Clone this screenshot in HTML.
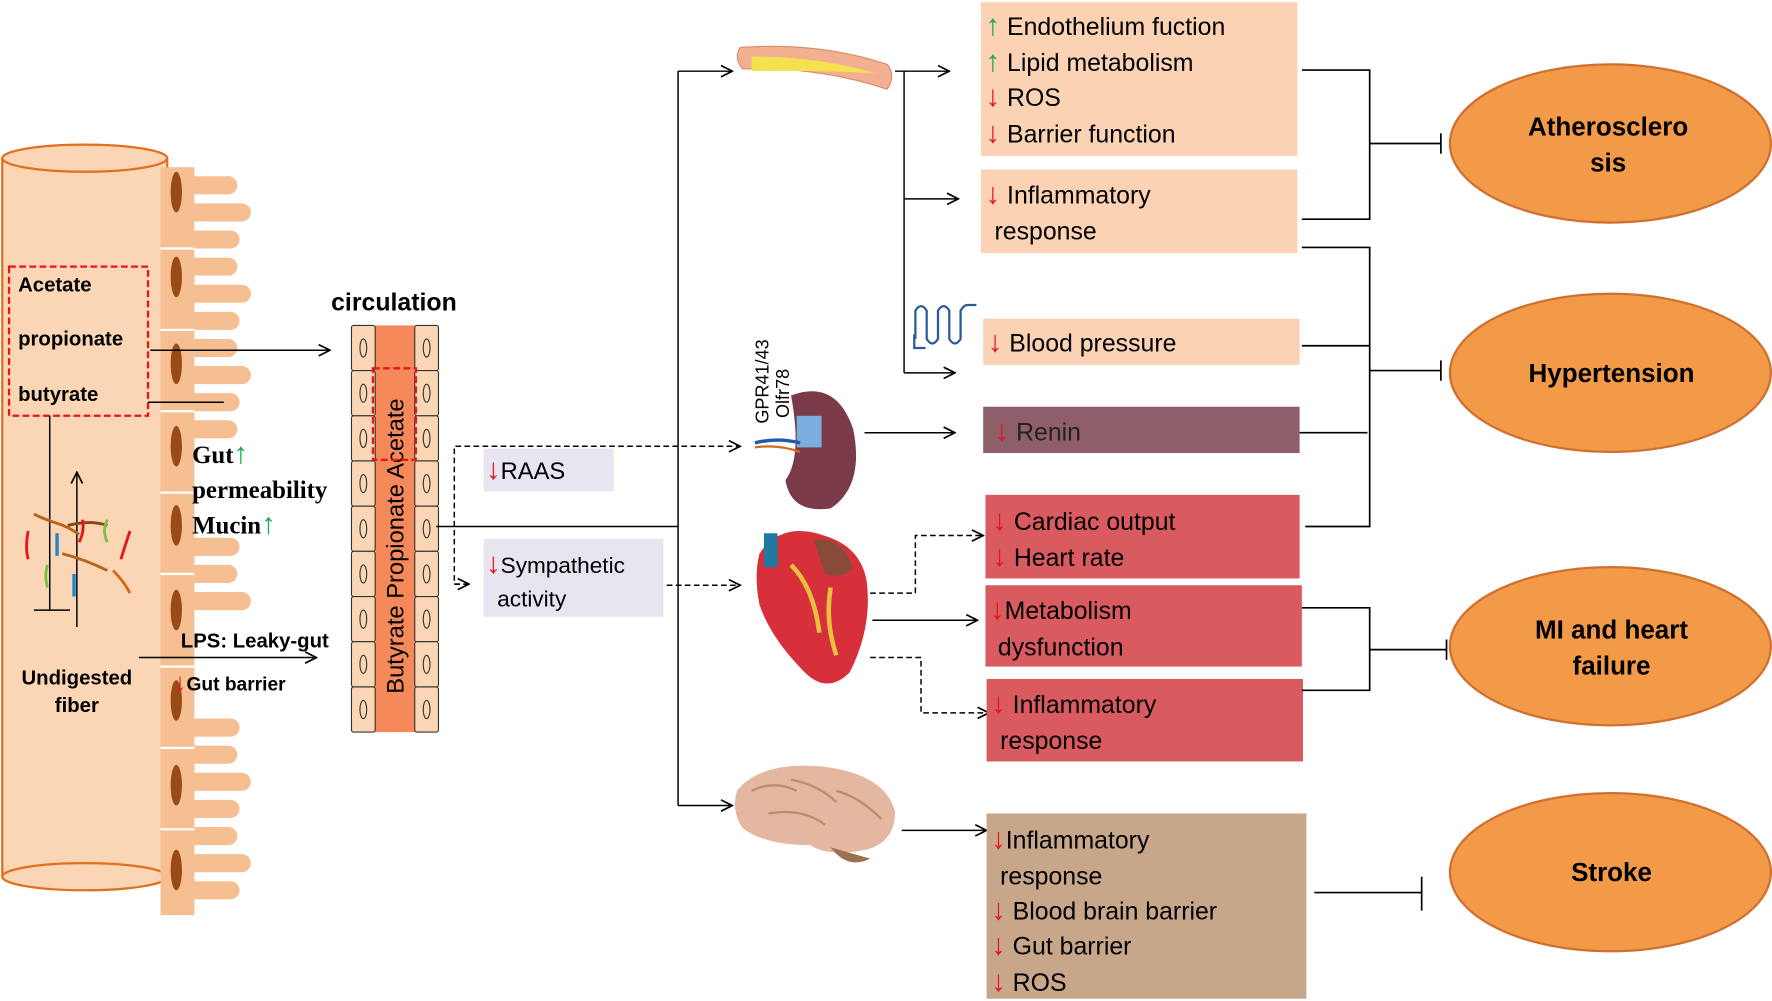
<!DOCTYPE html>
<html><head><meta charset="utf-8"><style>
html,body{margin:0;padding:0;background:#fff}
svg{display:block}
text{font-family:"Liberation Sans",sans-serif}
.b{font-weight:bold}
.s{font-family:"Liberation Serif",serif;font-weight:bold}
.up{fill:#1aa84a;font-size:26px;font-weight:bold}.dn{fill:#e8141c;font-size:26px;font-weight:bold}
</style></head><body>
<svg width="1772" height="1001" viewBox="0 0 1568 886" preserveAspectRatio="none" xmlns="http://www.w3.org/2000/svg">
<defs>
<marker id="a" markerWidth="12" markerHeight="12" refX="11" refY="6" orient="auto" markerUnits="userSpaceOnUse"><polyline points="1,1 11,6 1,11" fill="none" stroke="#000" stroke-width="1.5"/></marker>
</defs>
<!-- tube -->
<rect x="2" y="140" width="146" height="636" fill="#fbd6b4"/>
<line x1="2" y1="140" x2="2" y2="776" stroke="#e07020" stroke-width="2"/>
<line x1="148" y1="140" x2="148" y2="776" stroke="#e07020" stroke-width="2"/>
<ellipse cx="75" cy="776" rx="73" ry="12" fill="#fbd6b4" stroke="#e07020" stroke-width="2"/>
<ellipse cx="75" cy="140" rx="73" ry="12" fill="#fbd6b4" stroke="#e07020" stroke-width="2"/>
<!-- villi -->
<g fill="#f6bf92">
<rect x="142" y="148" width="30" height="662"/>
<rect x="160" y="156" width="50" height="16" rx="8"/><rect x="160" y="180" width="62" height="16" rx="8"/><rect x="160" y="204" width="52" height="16" rx="8"/>
<rect x="160" y="228" width="50" height="16" rx="8"/><rect x="160" y="252" width="62" height="16" rx="8"/><rect x="160" y="276" width="52" height="16" rx="8"/>
<rect x="160" y="300" width="50" height="16" rx="8"/><rect x="160" y="324" width="62" height="16" rx="8"/><rect x="160" y="348" width="52" height="16" rx="8"/>
<rect x="160" y="372" width="50" height="16" rx="8"/><rect x="160" y="476" width="52" height="16" rx="8"/>
<rect x="160" y="500" width="50" height="16" rx="8"/><rect x="160" y="524" width="62" height="16" rx="8"/><rect x="160" y="636" width="52" height="16" rx="8"/>
<rect x="160" y="660" width="50" height="16" rx="8"/><rect x="160" y="684" width="62" height="16" rx="8"/><rect x="160" y="708" width="52" height="16" rx="8"/>
<rect x="160" y="732" width="50" height="16" rx="8"/><rect x="160" y="756" width="62" height="16" rx="8"/><rect x="160" y="780" width="52" height="16" rx="8"/>
</g>
<g stroke="#fff" stroke-width="2"><line x1="142" y1="220" x2="172" y2="220"/><line x1="142" y1="292" x2="172" y2="292"/><line x1="142" y1="364" x2="172" y2="364"/><line x1="142" y1="436" x2="172" y2="436"/><line x1="142" y1="508" x2="172" y2="508"/><line x1="142" y1="590" x2="172" y2="590"/><line x1="142" y1="662" x2="172" y2="662"/><line x1="142" y1="734" x2="172" y2="734"/></g>
<g fill="#9a4a14">
<ellipse cx="156" cy="170" rx="5" ry="18"/><ellipse cx="156" cy="245" rx="5" ry="18"/><ellipse cx="156" cy="322" rx="5" ry="18"/><ellipse cx="156" cy="395" rx="5" ry="18"/><ellipse cx="156" cy="465" rx="5" ry="18"/><ellipse cx="156" cy="540" rx="5" ry="18"/><ellipse cx="156" cy="620" rx="5" ry="18"/><ellipse cx="156" cy="695" rx="5" ry="18"/><ellipse cx="156" cy="770" rx="5" ry="18"/>
</g>
<rect x="8" y="236" width="123" height="132" fill="none" stroke="#e8141c" stroke-width="2" stroke-dasharray="6,3"/>
<text x="16" y="258" class="b" font-size="18">Acetate</text>
<text x="16" y="306" class="b" font-size="18">propionate</text>
<text x="16" y="355" class="b" font-size="18">butyrate</text>
<line x1="133" y1="310" x2="292" y2="310" stroke="#000" stroke-width="1.3" marker-end="url(#a)"/>
<line x1="131" y1="356" x2="198" y2="356" stroke="#000" stroke-width="1.3"/>
<line x1="44" y1="368" x2="44" y2="540" stroke="#000" stroke-width="1.3"/>
<line x1="30" y1="540" x2="62" y2="540" stroke="#000" stroke-width="1.3"/>
<line x1="68" y1="555" x2="68" y2="418" stroke="#000" stroke-width="1.3" marker-end="url(#a)"/>
<g fill="none" stroke-width="2.5">
<path d="M30 455 q10 5 20 8 t20 10" stroke="#b5651d"/><path d="M25 470 q-3 15 0 25" stroke="#e8141c"/><path d="M60 465 q20 -5 35 0" stroke="#8b4513"/><path d="M70 480 q5 -10 3 -20" stroke="#e8141c"/><path d="M95 460 q-5 10 0 20" stroke="#7ac143"/><path d="M115 470 q-5 15 -8 25" stroke="#e8141c"/><path d="M55 490 q20 5 40 15" stroke="#b5651d"/><path d="M100 505 q10 10 15 20" stroke="#d2691e"/><path d="M42 500 q-3 10 0 20" stroke="#7ac143"/></g>
<rect x="49" y="472" width="3" height="20" fill="#1e88c8"/><rect x="64" y="508" width="3" height="20" fill="#1e88c8"/>
<text x="170" y="410" class="s" font-size="22">Gut<tspan class="up">↑</tspan></text>
<text x="170" y="441" class="s" font-size="22">permeability</text>
<text x="170" y="472" class="s" font-size="22">Mucin<tspan class="up">↑</tspan></text>
<text x="68" y="606" class="b" font-size="18" text-anchor="middle">Undigested</text>
<text x="68" y="630" class="b" font-size="18" text-anchor="middle">fiber</text>
<line x1="123" y1="582" x2="280" y2="582" stroke="#000" stroke-width="1.3" marker-end="url(#a)"/>
<text x="160" y="573" class="b" font-size="18">LPS: Leaky-gut</text>
<text x="154" y="611" class="b" font-size="17"><tspan class="dn" style="font-size:22px">↓</tspan>Gut barrier</text>
<!-- circulation -->
<text x="293" y="275" class="b" font-size="22">circulation</text>
<rect x="332" y="288" width="35" height="360" fill="#f5895a"/>
<g fill="#fbd6b4" stroke="#333" stroke-width="1">
<rect x="311" y="288" width="21" height="40" rx="2"/><rect x="311" y="328" width="21" height="40" rx="2"/><rect x="311" y="368" width="21" height="40" rx="2"/><rect x="311" y="408" width="21" height="40" rx="2"/><rect x="311" y="448" width="21" height="40" rx="2"/><rect x="311" y="488" width="21" height="40" rx="2"/><rect x="311" y="528" width="21" height="40" rx="2"/><rect x="311" y="568" width="21" height="40" rx="2"/><rect x="311" y="608" width="21" height="40" rx="2"/>
<rect x="367" y="288" width="21" height="40" rx="2"/><rect x="367" y="328" width="21" height="40" rx="2"/><rect x="367" y="368" width="21" height="40" rx="2"/><rect x="367" y="408" width="21" height="40" rx="2"/><rect x="367" y="448" width="21" height="40" rx="2"/><rect x="367" y="488" width="21" height="40" rx="2"/><rect x="367" y="528" width="21" height="40" rx="2"/><rect x="367" y="568" width="21" height="40" rx="2"/><rect x="367" y="608" width="21" height="40" rx="2"/>
</g>
<g fill="none" stroke="#333" stroke-width="1">
<ellipse cx="321.5" cy="308" rx="3" ry="8"/><ellipse cx="321.5" cy="348" rx="3" ry="8"/><ellipse cx="321.5" cy="388" rx="3" ry="8"/><ellipse cx="321.5" cy="428" rx="3" ry="8"/><ellipse cx="321.5" cy="468" rx="3" ry="8"/><ellipse cx="321.5" cy="508" rx="3" ry="8"/><ellipse cx="321.5" cy="548" rx="3" ry="8"/><ellipse cx="321.5" cy="588" rx="3" ry="8"/><ellipse cx="321.5" cy="628" rx="3" ry="8"/>
<ellipse cx="377.5" cy="308" rx="3" ry="8"/><ellipse cx="377.5" cy="348" rx="3" ry="8"/><ellipse cx="377.5" cy="388" rx="3" ry="8"/><ellipse cx="377.5" cy="428" rx="3" ry="8"/><ellipse cx="377.5" cy="468" rx="3" ry="8"/><ellipse cx="377.5" cy="508" rx="3" ry="8"/><ellipse cx="377.5" cy="548" rx="3" ry="8"/><ellipse cx="377.5" cy="588" rx="3" ry="8"/><ellipse cx="377.5" cy="628" rx="3" ry="8"/>
</g>
<text transform="translate(357,614) rotate(-90)" font-size="21">Butyrate  Propionate  Acetate</text>
<rect x="330" y="326" width="38" height="81" fill="none" stroke="#e8141c" stroke-width="2" stroke-dasharray="6,3"/>
<!-- main connectors -->
<line x1="386" y1="466" x2="600" y2="466" stroke="#000" stroke-width="1.3"/>
<line x1="600" y1="63" x2="600" y2="713" stroke="#000" stroke-width="1.3"/>
<line x1="600" y1="63" x2="648" y2="63" stroke="#000" stroke-width="1.3" marker-end="url(#a)"/>
<line x1="600" y1="713" x2="648" y2="713" stroke="#000" stroke-width="1.3" marker-end="url(#a)"/>
<g stroke="#000" stroke-width="1.3" stroke-dasharray="5,3" fill="none">
<polyline points="415,517 402,517 402,395 655,395" marker-end="url(#a)"/>
<line x1="402" y1="517" x2="415" y2="517" marker-end="url(#a)"/>
<line x1="590" y1="518" x2="655" y2="518" marker-end="url(#a)"/>
<polyline points="770,525 810,525 810,474 870,474" marker-end="url(#a)"/>
<polyline points="770,582 815,582 815,631 875,631" marker-end="url(#a)"/>
</g>
<rect x="428" y="397" width="115" height="38" fill="#e8e4f0"/>
<text x="430" y="424" font-size="21"><tspan class="dn">↓</tspan>RAAS</text>
<rect x="428" y="477" width="159" height="69" fill="#e8e4f0"/>
<text x="430" y="507" font-size="20"><tspan class="dn">↓</tspan>Sympathetic</text>
<text x="440" y="537" font-size="20">activity</text>
<!-- organs -->
<path d="M655 42 q70 -5 130 15 q8 10 0 22 q-60 -20 -128 -18 q-8 -10 -2 -19z" fill="#f2b090" stroke="#d98a6a"/>
<path d="M665 50 q60 0 110 15 q-50 -3 -110 -2z" fill="#f5e050"/>
<path d="M700 350 q40 -15 55 30 q10 50 -20 70 q-35 5 -40 -25 q15 -20 5 -75z" fill="#7a3a48"/>
<rect x="705" y="368" width="22" height="28" fill="#7aaedc"/>
<path d="M668 392 q20 -5 40 0" stroke="#1e5aa8" stroke-width="3" fill="none"/>
<path d="M668 396 q20 -3 40 4" stroke="#d2691e" stroke-width="2" fill="none"/>
<text transform="translate(680,375) rotate(-90)" font-size="16">GPR41/43</text>
<text transform="translate(698,370) rotate(-90)" font-size="16">Olfr78</text>
<path d="M672 490 q20 -30 60 -15 q30 10 35 40 q5 40 -15 80 q-20 20 -40 0 q-30 -30 -40 -60 q-5 -25 0 -45z" fill="#d8303a"/>
<path d="M720 478 q25 -5 35 25 q-10 10 -25 5z" fill="#8a4a3a"/>
<rect x="676" y="472" width="12" height="30" fill="#1e7aa0"/>
<path d="M700 500 q20 20 25 60 M735 520 q-5 30 5 60" stroke="#e8c040" stroke-width="4" fill="none"/>
<path d="M652 700 q20 -25 70 -22 q60 5 70 40 q0 30 -30 35 q-30 5 -45 -5 q-40 0 -60 -15 q-10 -15 -5 -33z" fill="#e4b8a0"/>
<path d="M665 700 q20 -10 40 0 M700 690 q25 5 40 20 M680 720 q30 -5 50 10 M740 700 q20 5 40 25" stroke="#c08a70" stroke-width="2" fill="none"/>
<path d="M735 750 q15 20 35 10" fill="#9a7050"/>
<line x1="792" y1="63" x2="840" y2="63" stroke="#000" stroke-width="1.3" marker-end="url(#a)"/>
<line x1="800" y1="63" x2="800" y2="330" stroke="#000" stroke-width="1.3"/>
<line x1="800" y1="176" x2="848" y2="176" stroke="#000" stroke-width="1.3" marker-end="url(#a)"/>
<line x1="800" y1="330" x2="845" y2="330" stroke="#000" stroke-width="1.3" marker-end="url(#a)"/>
<path d="M810 300 v-25 q5 -8 10 0 v25 q5 8 10 0 v-25 q5 -8 10 0 v25 q5 8 10 0 v-25 q3 -5 6 -5 h8" fill="none" stroke="#2a5a9a" stroke-width="2"/>
<path d="M809 296 v12 h10" fill="none" stroke="#2a5a9a" stroke-width="2"/>
<line x1="765" y1="383" x2="845" y2="383" stroke="#000" stroke-width="1.3" marker-end="url(#a)"/>
<line x1="772" y1="549" x2="865" y2="549" stroke="#000" stroke-width="1.3" marker-end="url(#a)"/>
<line x1="798" y1="735" x2="873" y2="735" stroke="#000" stroke-width="1.3" marker-end="url(#a)"/>
<!-- boxes -->
<rect x="868" y="2" width="280" height="136" fill="#fbd3b4"/>
<text x="872" y="31" font-size="22"><tspan class="up">↑</tspan> Endothelium fuction</text>
<text x="872" y="63" font-size="22"><tspan class="up">↑</tspan> Lipid metabolism</text>
<text x="872" y="94" font-size="22"><tspan class="dn">↓</tspan> ROS</text>
<text x="872" y="126" font-size="22"><tspan class="dn">↓</tspan> Barrier function</text>
<rect x="868" y="150" width="280" height="74" fill="#fbd3b4"/>
<text x="872" y="180" font-size="22"><tspan class="dn">↓</tspan> Inflammatory</text>
<text x="880" y="212" font-size="22">response</text>
<rect x="870" y="282" width="280" height="41" fill="#fbd3b4"/>
<text x="874" y="311" font-size="22"><tspan class="dn">↓</tspan> Blood pressure</text>
<rect x="870" y="360" width="280" height="41" fill="#8e5e6a"/>
<text x="880" y="390" font-size="22" fill="#222"><tspan class="dn">↓</tspan> Renin</text>
<rect x="872" y="438" width="278" height="74" fill="#d95b60"/>
<text x="878" y="469" font-size="22"><tspan class="dn">↓</tspan> Cardiac output</text>
<text x="878" y="501" font-size="22"><tspan class="dn">↓</tspan> Heart rate</text>
<rect x="872" y="518" width="280" height="72" fill="#d95b60"/>
<text x="876" y="548" font-size="22"><tspan class="dn">↓</tspan>Metabolism</text>
<text x="883" y="580" font-size="22">dysfunction</text>
<rect x="873" y="601" width="280" height="73" fill="#d95b60"/>
<text x="877" y="631" font-size="22"><tspan class="dn">↓</tspan> Inflammatory</text>
<text x="885" y="663" font-size="22">response</text>
<rect x="873" y="720" width="283" height="164" fill="#c8a68a"/>
<text x="877" y="751" font-size="22"><tspan class="dn">↓</tspan>Inflammatory</text>
<text x="885" y="783" font-size="22">response</text>
<text x="877" y="814" font-size="22"><tspan class="dn">↓</tspan> Blood brain barrier</text>
<text x="877" y="845" font-size="22"><tspan class="dn">↓</tspan> Gut barrier</text>
<text x="877" y="877" font-size="22"><tspan class="dn">↓</tspan> ROS</text>
<!-- brackets -->
<g stroke="#000" stroke-width="1.5" fill="none">
<polyline points="1152,62 1212,62 1212,194 1152,194"/><line x1="1212" y1="127" x2="1275" y2="127"/><line x1="1275" y1="118" x2="1275" y2="136"/>
<polyline points="1152,219 1212,219 1212,466 1155,466"/><line x1="1152" y1="306" x2="1212" y2="306"/><line x1="1150" y1="383" x2="1210" y2="383"/><line x1="1212" y1="328" x2="1275" y2="328"/><line x1="1275" y1="319" x2="1275" y2="337"/>
<polyline points="1152,538 1212,538 1212,611 1152,611"/><line x1="1212" y1="575" x2="1280" y2="575"/><line x1="1280" y1="566" x2="1280" y2="584"/>
<line x1="1163" y1="790" x2="1258" y2="790"/><line x1="1258" y1="776" x2="1258" y2="806"/>
</g>
<g fill="#f39a48" stroke="#d07030" stroke-width="2">
<ellipse cx="1425" cy="127" rx="142" ry="70"/><ellipse cx="1425" cy="330" rx="142" ry="70"/><ellipse cx="1425" cy="572" rx="142" ry="70"/><ellipse cx="1425" cy="772" rx="142" ry="70"/>
</g>
<g class="b" font-size="23" text-anchor="middle">
<text x="1423" y="120">Atherosclero</text><text x="1423" y="152">sis</text>
<text x="1426" y="338">Hypertension</text>
<text x="1426" y="565">MI and heart</text><text x="1426" y="597">failure</text>
<text x="1426" y="780">Stroke</text>
</g>
</svg>
</body></html>
